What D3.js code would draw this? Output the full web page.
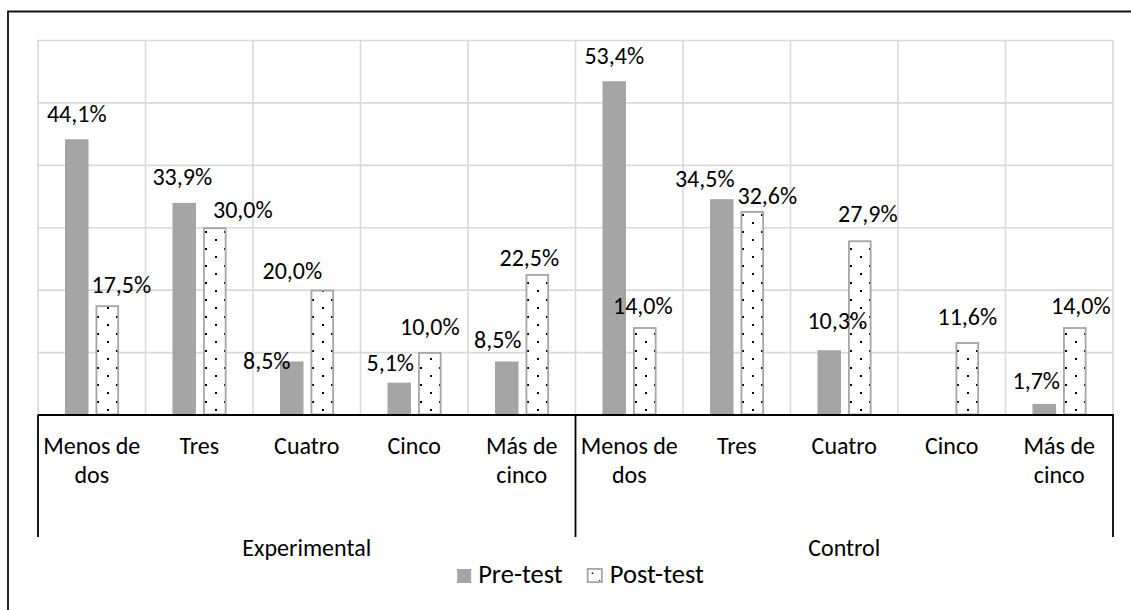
<!DOCTYPE html>
<html>
<head>
<meta charset="utf-8">
<script src="https://cdn.jsdelivr.net/npm/d3@7"></script>
<style>
  html, body { margin: 0; padding: 0; background: #fff; }
  svg { display: block; }
  text { font-family: Carlito, Calibri, Lato, "Open Sans", sans-serif; fill: #000; }
</style>
</head>
<body>
<svg id="chart" width="1131" height="610"></svg>
<script>
// Number of hours per group, pre-test vs post-test (percent of students)
const groups = ["Experimental", "Control"];
const categories = ["Menos de dos", "Tres", "Cuatro", "Cinco", "Más de cinco"];
const series = ["Pre-test", "Post-test"];
const preTest  = [44.1, 33.9, 8.5, 5.1, 8.5, 53.4, 34.5, 10.3, 0, 1.7];
const postTest = [17.5, 30.0, 20.0, 10.0, 22.5, 14.0, 32.6, 27.9, 11.6, 14.0];
const yTicks = [0, 10, 20, 30, 40, 50, 60];

// Hand-placed label nudges (dx, dy) so neighbouring labels do not collide
const preLabelShift  = [[0,0],[-2,0],[-25,25],[-9,6],[-9,4],[0,0],[-17,5],[8,-4],[0,0],[-8,3]];
const postLabelShift = [[14,5],[28,8],[-30,7],[0,0],[-8,9],[-2,4],[15,10],[8,-1],[0,0],[6,4]];

const svg = d3.select("#chart");
const plot = { left: 38, right: 1113, top: 40, bottom: 414.5 };
const FS = 24;
const LEGEND_FS = 26.5;

// Flattened x domain: one slot per (group, category)
const slots = [];
groups.forEach((g, gi) => categories.forEach((c, ci) => slots.push({ key: g + "|" + c, group: g, cat: c, i: gi * categories.length + ci })));

const x = d3.scaleBand().domain(slots.map(d => d.key)).range([plot.left, plot.right]).padding(0);
const bw = x.bandwidth();
const xInner = d3.scaleBand().domain(series).range([bw * 0.251, bw * 0.754]).paddingInner(0.23);
const y = d3.scaleLinear().domain([0, 60]).range([plot.bottom, plot.top]);

const comma = d3.formatLocale({ decimal: ",", thousands: ".", grouping: [3], currency: ["", "€"] }).format(".1f");

// Outer frame
svg.append("path").attr("d", "M8,611 V11.5 H1132").attr("fill", "none").attr("stroke", "#111").attr("stroke-width", 1.8);

// Horizontal gridlines
svg.append("g")
  .attr("transform", `translate(${plot.left},0)`)
  .call(d3.axisLeft(y).tickValues(yTicks).tickSize(-(plot.right - plot.left)).tickFormat(""))
  .call(g => g.select(".domain").remove())
  .call(g => g.selectAll("line").attr("stroke", "#d9d9d9").attr("stroke-width", 1.6));

// Vertical gridlines at slot boundaries
const bounds = slots.map(d => x(d.key)).concat([plot.right]);
svg.append("g").selectAll("line").data(bounds).join("line")
  .attr("x1", d => d).attr("x2", d => d)
  .attr("y1", plot.top).attr("y2", plot.bottom)
  .attr("stroke", "#d9d9d9").attr("stroke-width", 1.6);

// Dot patterns for the post-test bars, anchored to each bar
const defs = svg.append("defs");
slots.forEach((s, i) => {
  const bx = x(s.key) + xInner("Post-test");
  const p = defs.append("pattern").attr("id", "dots" + i)
    .attr("patternUnits", "userSpaceOnUse")
    .attr("x", Math.round(bx + 1.7)).attr("y", Math.round(plot.bottom - 13.7))
    .attr("width", 19).attr("height", 17);
  p.append("rect").attr("width", 19).attr("height", 17).attr("fill", "#fff");
  p.append("rect").attr("x", 0).attr("y", 0).attr("width", 2).attr("height", 2).attr("fill", "#000").attr("shape-rendering", "crispEdges");
  p.append("rect").attr("x", 10).attr("y", 8).attr("width", 2).attr("height", 2).attr("fill", "#000").attr("shape-rendering", "crispEdges");
});

// Bars
const barsG = svg.append("g");
barsG.selectAll("rect.pre").data(slots).join("rect").attr("class", "pre")
  .attr("x", d => x(d.key) + xInner("Pre-test"))
  .attr("width", xInner.bandwidth())
  .attr("y", d => y(preTest[d.i]))
  .attr("height", d => y(0) - y(preTest[d.i]))
  .attr("fill", "#a5a5a5");

barsG.selectAll("rect.post").data(slots).join("rect").attr("class", "post")
  .attr("x", d => x(d.key) + xInner("Post-test") + 0.9)
  .attr("width", xInner.bandwidth() - 1.8)
  .attr("y", d => y(postTest[d.i]) + 0.9)
  .attr("height", d => y(0) - y(postTest[d.i]) - 0.9)
  .attr("fill", (d, i) => `url(#dots${i})`)
  .attr("stroke", "#a5a5a5").attr("stroke-width", 1.8);

// Value labels
const labelsG = svg.append("g").attr("font-size", FS).attr("text-anchor", "middle");
function addLabels(values, shifts, name) {
  labelsG.selectAll("text." + name).data(slots.filter(d => values[d.i] > 0)).join("text")
    .attr("class", name)
    .attr("x", d => x(d.key) + xInner(name === "pre" ? "Pre-test" : "Post-test") + xInner.bandwidth() / 2 + shifts[d.i][0])
    .attr("y", d => y(values[d.i]) - 17.5 + shifts[d.i][1])
    .text(d => comma(values[d.i]) + "%");
}
addLabels(preTest, preLabelShift, "pre");
addLabels(postTest, postLabelShift, "post");

// Category axis
const axisG = svg.append("g").attr("transform", `translate(0,${plot.bottom})`)
  .call(d3.axisBottom(x).tickSize(0).tickFormat(k => k.split("|")[1]));
axisG.select(".domain").attr("stroke", "#000").attr("stroke-width", 1.8);
axisG.selectAll(".tick text").attr("font-size", FS).attr("font-family", null).attr("fill", "#000")
  .attr("dy", null).attr("y", 39.5)
  .each(function () {
    const t = d3.select(this);
    const words = t.text().split(" ");
    t.text(null);
    let line = [], tspan = t.append("tspan").attr("x", 0);
    words.forEach(w => {
      line.push(w);
      tspan.text(line.join(" "));
      if (tspan.node().getComputedTextLength() > bw - 6 && line.length > 1) {
        line.pop();
        tspan.text(line.join(" "));
        line = [w];
        tspan = t.append("tspan").attr("x", 0).attr("dy", 29).text(w);
      }
    });
  });

// Group separators and group labels
const groupEdges = [plot.left, x(groups[1] + "|" + categories[0]), plot.right];
svg.append("g").selectAll("line").data(groupEdges).join("line")
  .attr("x1", d => d).attr("x2", d => d)
  .attr("y1", plot.bottom).attr("y2", 537)
  .attr("stroke", "#000").attr("stroke-width", 1.8);
svg.append("g").attr("font-size", FS).attr("text-anchor", "middle")
  .selectAll("text").data(groups).join("text")
  .attr("x", (d, i) => (groupEdges[i] + groupEdges[i + 1]) / 2)
  .attr("y", 556)
  .text(d => d);

// Legend
const legend = svg.append("g").attr("font-size", LEGEND_FS);
let lx = 0;
const items = legend.selectAll("g").data(series).join("g");
items.each(function (d, i) {
  const g = d3.select(this);
  if (i === 0) {
    g.append("rect").attr("width", 14).attr("height", 14).attr("y", -14).attr("fill", "#a5a5a5");
  } else {
    g.append("rect").attr("x", 0.9).attr("y", -14.1).attr("width", 14.2).attr("height", 13.2)
      .attr("fill", "#fff").attr("stroke", "#a5a5a5").attr("stroke-width", 1.8);
    g.append("rect").attr("x", 5).attr("y", -10.5).attr("width", 1.5).attr("height", 1.5).attr("fill", "#000");
    g.append("rect").attr("x", 12.5).attr("y", -3).attr("width", 1).attr("height", 1).attr("fill", "#000");
  }
  const tx = i === 0 ? 21 : 23;
  const t = g.append("text").attr("x", tx).attr("y", 0).text(d);
  g.attr("transform", `translate(${lx},0)`);
  lx += tx + t.node().getComputedTextLength() + 24;
});
const legendWidth = lx - 24;
legend.attr("transform", `translate(${580.5 - legendWidth / 2},583)`);
</script>
</body>
</html>
